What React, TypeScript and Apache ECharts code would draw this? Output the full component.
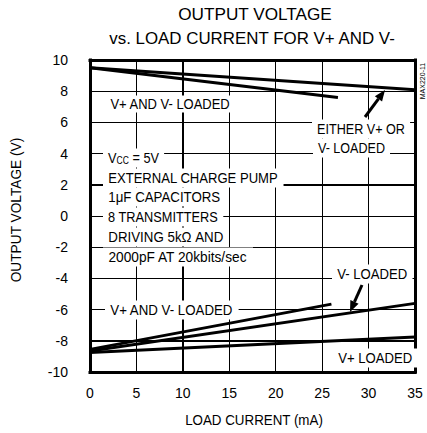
import React, { useEffect, useRef } from "react";
import * as echarts from "echarts";

// ---- data ----
const xTickValues = [0, 5, 10, 15, 20, 25, 30, 35];
const yTickValues = [-10, -8, -6, -4, -2, 0, 2, 4, 6, 8, 10];
// load current (mA), output voltage (V)
const eitherLoaded = [[0, 9.5], [35, 8.1]];
const bothLoadedPos = [[0, 9.5], [26.7, 7.6]];
const bothLoadedNeg = [[0, -8.55], [26, -5.65]];
const vMinusLoaded = [[0, -8.65], [35, -5.6]];
const vPlusLoaded = [[0, -8.75], [35, -7.75]];

const FONT = "Liberation Sans, Arial, Helvetica, sans-serif";

function measure(text: string, size: number): number {
  const c = document.createElement("canvas").getContext("2d");
  if (!c) return text.length * size * 0.6;
  c.font = `${size}px ${FONT}`;
  return c.measureText(text).width;
}

function label(text: string, left: number, cy: number, width: number, size = 15, pad: number[] = [1, 4]) {
  const s = width / measure(text, size);
  return {
    type: "text",
    x: left,
    y: cy,
    scaleX: s,
    z: 110,
    style: {
      text,
      fontFamily: FONT,
      fontSize: size,
      fill: "#000",
      align: "left",
      verticalAlign: "middle",
      backgroundColor: "#fff",
      padding: pad,
    },
  };
}

function centered(text: string, cx: number, cy: number, width: number, size: number, rotation = 0) {
  const s = width / measure(text, size);
  return {
    type: "text",
    x: cx,
    y: cy,
    scaleX: s,
    rotation,
    z: 110,
    style: {
      text,
      fontFamily: FONT,
      fontSize: size,
      fill: "#000",
      align: "center",
      verticalAlign: "middle",
    },
  };
}

function arrow(x1: number, y1: number, x2: number, y2: number) {
  const dx = x2 - x1, dy = y2 - y1;
  const len = Math.sqrt(dx * dx + dy * dy);
  const ux = dx / len, uy = dy / len;
  const hl = 11, hw = 4.5;
  const bx = x2 - ux * hl, by = y2 - uy * hl;
  const px = -uy, py = ux;
  return [
    { type: "line", z: 111, shape: { x1, y1, x2: bx, y2: by }, style: { stroke: "#000", lineWidth: 3 } },
    {
      type: "polygon",
      z: 111,
      shape: { points: [[x2, y2], [bx + px * hw, by + py * hw], [bx - px * hw, by - py * hw]] },
      style: { fill: "#000" },
    },
  ];
}

// thin filled quad between two pixel points, drawn above the plot
function rule(x1: number, y1: number, x2: number, y2: number, w: number) {
  let pts: number[][];
  if (Math.abs(x1 - x2) < 0.01) {
    const x = Math.round(x1 - w / 2);
    pts = [[x, y1], [x + w, y1], [x + w + 0.02, y2], [x + 0.02, y2]];
  } else {
    const y = Math.round(y1 - w / 2);
    pts = [[x1, y], [x2, y + 0.02], [x2, y + w + 0.02], [x1, y + w]];
  }
  return { type: "polygon", z: 102, silent: true, shape: { points: pts }, style: { fill: "#000" } };
}

export default function App() {
  const ref = useRef<HTMLDivElement>(null);
  useEffect(() => {
    if (!ref.current) return;
    const chart = echarts.init(ref.current, null, { renderer: "svg" });
    const lineSeries = (name: string, data: number[][]) => ({
      name,
      type: "line",
      data,
      symbol: "none",
      lineStyle: { color: "#000", width: 3 },
      z: 3,
    });
    const blockLeft = 103;
    const blockRows: [string, number, number][] = [
      ["EXTERNAL CHARGE PUMP", 178, 170],
      ["1μF CAPACITORS", 197, 112],
      ["8 TRANSMITTERS", 217, 110],
      ["DRIVING 5kΩ AND", 237, 115],
      ["2000pF AT 20kbits/sec", 257, 139],
    ];
    const xMin = xTickValues[0], xMax = xTickValues[xTickValues.length - 1];
    const yMin = yTickValues[0], yMax = yTickValues[yTickValues.length - 1];
    const split = { show: true, lineStyle: { color: "#000", width: 1, type: "solid" } };

    chart.setOption({
      animation: false,
      grid: { left: 90, right: 12, top: 60, bottom: 61 },
      xAxis: {
        type: "value",
        min: xMin,
        max: xMax,
        interval: 5,
        axisLine: { show: false },
        axisTick: { show: false },
        splitLine: split,
        axisLabel: {
          color: "#000",
          fontFamily: FONT,
          fontSize: 14,
          margin: 14,
          formatter: (v: number) => (xTickValues.includes(v) ? String(v) : ""),
        },
      },
      yAxis: {
        type: "value",
        min: yMin,
        max: yMax,
        interval: 2,
        axisLine: { show: false },
        axisTick: { show: false },
        splitLine: split,
        axisLabel: {
          color: "#000",
          fontFamily: FONT,
          fontSize: 14,
          margin: 22,
          formatter: (v: number) => (yTickValues.includes(v) ? String(v) : ""),
        },
      },
      series: [
        lineSeries("Either V+ or V- loaded", eitherLoaded),
        lineSeries("V+ and V- loaded (V+)", bothLoadedPos),
        lineSeries("V+ and V- loaded (V-)", bothLoadedNeg),
        lineSeries("V- loaded", vMinusLoaded),
        lineSeries("V+ loaded", vPlusLoaded),
      ],
    });

    // gridlines and frame positioned through the chart's own scales
    const px = (x: number, y: number) => chart.convertToPixel({ gridIndex: 0 }, [x, y]) as number[];
    const rules: any[] = [];
    xTickValues.slice(1, -1).forEach((v) => {
      const a = px(v, yMax), b = px(v, yMin);
      rules.push(rule(a[0], a[1], b[0], b[1], 1));
    });
    yTickValues.slice(1, -1).forEach((v) => {
      const a = px(xMin, v), b = px(xMax, v);
      rules.push(rule(a[0], a[1], b[0], b[1], 1));
    });
    const tl = px(xMin, yMax), br = px(xMax, yMin);
    rules.push(rule(tl[0], tl[1] - 1.5, tl[0], br[1] + 1.5, 3));
    rules.push(rule(br[0], tl[1] - 1.5, br[0], br[1] + 1.5, 3));
    rules.push(rule(tl[0] - 1.5, tl[1], br[0] + 1.5, tl[1], 3));
    rules.push(rule(tl[0] - 1.5, br[1], br[0] + 1.5, br[1], 3));

    chart.setOption({
      graphic: [
        ...rules,
        centered("OUTPUT VOLTAGE", 255, 15, 154, 17),
        centered("vs. LOAD CURRENT FOR V+ AND V-", 252, 38, 287, 17),
        centered("LOAD CURRENT (mA)", 254, 420, 138, 14),
        centered("OUTPUT VOLTAGE (V)", 16, 210, 145, 14, Math.PI / 2),
        {
          type: "text",
          x: 422,
          y: 81,
          rotation: Math.PI / 2,
          z: 110,
          style: {
            text: "MAX220-11",
            fontFamily: FONT,
            fontSize: 7,
            fill: "#000",
            align: "center",
            verticalAlign: "middle",
          },
        },
        label("V+ AND V- LOADED", 107, 104, 120),
        label("EITHER V+ OR", 312, 129, 88, 15, [2, 6]),
        label("V- LOADED", 313, 148, 67, 15, [2, 6]),
        {
          type: "text",
          x: blockLeft,
          y: 158,
          scaleX: 0.85,
          z: 110,
          style: {
            text: "V{sub|CC} = 5V",
            fontFamily: FONT,
            fontSize: 15,
            fill: "#000",
            align: "left",
            verticalAlign: "middle",
            backgroundColor: "#fff",
            padding: [2, 6],
            rich: {
              sub: {
                fontFamily: FONT,
                fontSize: 10,
                fill: "#000",
                padding: [5, 0, 0, 0],
              },
            },
          },
        },
        ...blockRows.map(([t, cy, w]) => label(t, blockLeft, cy, w, 15, [2, 6])),
        label("V- LOADED", 332, 274, 70, 15, [2, 6]),
        label("V+ AND V- LOADED", 105, 310, 123, 15, [2, 6]),
        label("V+ LOADED", 333, 358, 74, 15, [2, 6]),
        ...arrow(365, 117, 385, 90),
        ...arrow(362, 285, 350, 312),
      ],
    });
    return () => chart.dispose();
  }, []);
  return (
    <div
      ref={ref}
      style={{ position: "fixed", left: 0, top: 0, width: 427, height: 433, background: "#fff" }}
    />
  );
}
